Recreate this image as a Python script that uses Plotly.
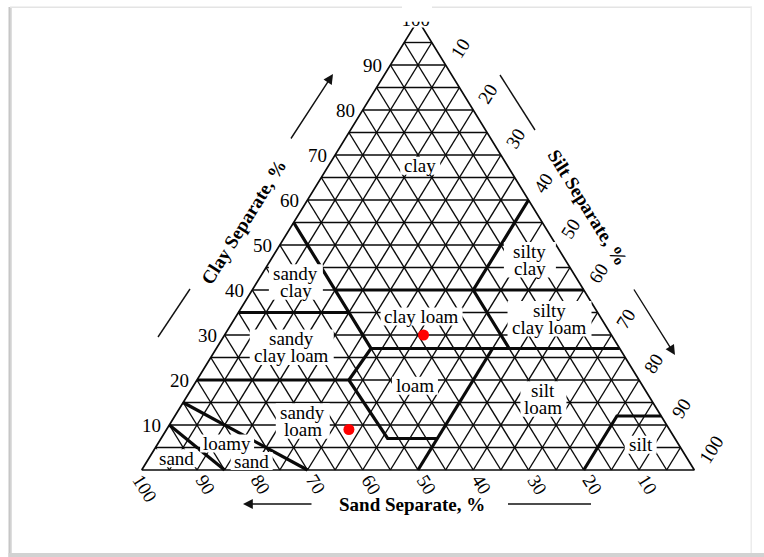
import plotly.graph_objects as go

# ---------------- data ----------------
clay_tick_values = [10, 20, 30, 40, 50, 60, 70, 80, 90]
clay_tick_labels = ["10", "20", "30", "40", "50", "60", "70", "80", "90"]
silt_tick_values = [10, 20, 30, 40, 50, 60, 70, 80, 90, 100]
silt_tick_labels = ["10", "20", "30", "40", "50", "60", "70", "80", "90", "100"]
sand_tick_values = [100, 90, 80, 70, 60, 50, 40, 30, 20, 10]
sand_tick_labels = ["100", "90", "80", "70", "60", "50", "40", "30", "20", "10"]
apex_label = "100"

grid_step = 5  # grid every 5 %

# texture-class boundaries, vertices given as (sand %, clay %)
bnd_sand45 = [(45, 55), (45, 27), (52.5, 20)]
bnd_clay20 = [(80, 20), (52.5, 20), (52, 7), (43, 7)]
bnd_clay35 = [(65, 35), (45, 35)]
bnd_clay40 = [(45, 40), (0, 40)]
bnd_silt40 = [(0, 60), (20, 40), (20, 27)]
bnd_clay27 = [(45, 27), (0, 27)]
bnd_silt50 = [(23, 27), (50, 0)]
bnd_silt80 = [(0, 12), (8, 12), (20, 0)]
bnd_loamysand = [(85, 15), (70, 0)]
bnd_sand = [(90, 10), (85, 0)]
boundaries = [bnd_sand45, bnd_clay20, bnd_clay35, bnd_clay40, bnd_silt40,
              bnd_clay27, bnd_silt50, bnd_silt80, bnd_loamysand, bnd_sand]

# texture-class labels
class_text = ["clay", "sandy|clay", "silty|clay", "sandy|clay loam", "clay loam",
              "silty|clay loam", "loam", "silt|loam", "sandy|loam", "loamy",
              "sand", "sand", "silt"]
class_sand = [15.8, 51.2, 6.4, 59.2, 32.3, 9.4, 41.2, 19.4, 65.4, 81.6, 79.1, 92.4, 6.9]
class_clay = [67.6, 41.8, 46.7, 27.3, 34.1, 33.6, 18.7, 15.8, 10.9, 5.9, 2.0, 2.6, 5.6]
class_boxw = [40, 54, 52, 84, 82, 84, 46, 46, 54, 54, 42, 42, 32]

# sample points (sand, silt, clay %)
sample_sand = [34, 58]
sample_silt = [36, 33]
sample_clay = [30, 9]

# ---------------- geometry ----------------
FIG_W, FIG_H = 764, 557
LEFT_PX, BOTTOM_PX, PX_PER_X, PX_PER_Y = 141.7, 470.0, 5.526, 4.5
LINE_GAP = 17.5


def tx(sand, clay):
    return 100 - sand - clay / 2.0


def ty(sand, clay):
    return clay


def px2paper(px, py):
    return px / FIG_W, 1 - py / FIG_H


xr = [-LEFT_PX / PX_PER_X, (FIG_W - LEFT_PX) / PX_PER_X]
yr = [(BOTTOM_PX - FIG_H) / PX_PER_Y, BOTTOM_PX / PX_PER_Y]

FONT = "Liberation Serif, Times New Roman, serif"
TFONT = dict(family=FONT, size=19, color="black")

fig = go.Figure()

# grid lines
gx, gy = [], []
for k in range(grid_step, 100, grid_step):
    for a, b in [((100 - k, k), (0, k)),        # constant clay
                 ((k, 0), (k, 100 - k)),        # constant sand
                 ((100 - k, 0), (0, 100 - k))]:  # constant silt
        gx += [tx(*a), tx(*b), None]
        gy += [ty(*a), ty(*b), None]
fig.add_trace(go.Scatter(x=gx, y=gy, mode="lines", line=dict(color="#0a0a0a", width=1.4),
                         hoverinfo="skip", showlegend=False))

# outline
outline = [(100, 0), (0, 0), (0, 100), (100, 0)]
fig.add_trace(go.Scatter(x=[tx(*p) for p in outline], y=[ty(*p) for p in outline],
                         mode="lines", line=dict(color="#0a0a0a", width=1.7),
                         hoverinfo="skip", showlegend=False))

# class boundaries
bx, by = [], []
for poly in boundaries:
    bx += [tx(*p) for p in poly] + [None]
    by += [ty(*p) for p in poly] + [None]
fig.add_trace(go.Scatter(x=bx, y=by, mode="lines", line=dict(color="#0a0a0a", width=3.2),
                         hoverinfo="skip", showlegend=False))

# white box behind the apex label
ax0, ax1 = (402 - LEFT_PX) / PX_PER_X, (432 - LEFT_PX) / PX_PER_X
ay0, ay1 = (BOTTOM_PX - 27.5) / PX_PER_Y, yr[1]
fig.add_trace(go.Scatter(x=[ax0, ax1, ax1, ax0, ax0], y=[ay0, ay0, ay1, ay1, ay0],
                         mode="lines", fill="toself", fillcolor="white",
                         line=dict(width=0, color="white"), hoverinfo="skip", showlegend=False))
fig.add_trace(go.Scatter(x=[tx(0, 100) - 0.4], y=[ty(0, 100) - 0.2], mode="text",
                         text=[apex_label], textposition="middle center",
                         textfont=TFONT, hoverinfo="skip", showlegend=False))

# sample points
fig.add_trace(go.Scatter(x=[tx(s, c) for s, c in zip(sample_sand, sample_clay)],
                         y=[ty(s, c) for s, c in zip(sample_sand, sample_clay)],
                         mode="markers", marker=dict(color="#ff0000", size=11),
                         customdata=list(zip(sample_sand, sample_silt, sample_clay)),
                         showlegend=False))

ann = []
shapes = []
# tick labels
for v, t in zip(clay_tick_values, clay_tick_labels):
    ann.append(dict(x=tx(100 - v, v), y=ty(100 - v, v), text=t, showarrow=False,
                    xanchor="center", yanchor="middle", xshift=-17.5, yshift=0, font=TFONT))
for v, t in zip(silt_tick_values, silt_tick_labels):
    big = len(t) == 3
    ann.append(dict(x=tx(0, 100 - v), y=ty(0, 100 - v), text=t, showarrow=False,
                    xanchor="center", yanchor="middle", textangle=-58,
                    xshift=17 if big else 14.5, yshift=20.5 if big else 16.5, font=TFONT))
for v, t in zip(sand_tick_values, sand_tick_labels):
    big = len(t) == 3
    ann.append(dict(x=tx(v, 0), y=ty(v, 0), text=t, showarrow=False,
                    xanchor="center", yanchor="middle", textangle=58,
                    xshift=3.5 if big else 8.5, yshift=-18 if big else -14.5, font=TFONT))

# class labels: white box (shape above the traces) + text lines
for name, s, c, w in zip(class_text, class_sand, class_clay, class_boxw):
    lines = name.split("|")
    n = len(lines)
    h = 18 + (n - 1) * LINE_GAP
    shapes.append(dict(type="rect", xref="x", yref="y", xsizemode="pixel", ysizemode="pixel",
                       xanchor=tx(s, c), yanchor=ty(s, c), x0=-w / 2.0, x1=w / 2.0,
                       y0=-h / 2.0, y1=h / 2.0, fillcolor="white", line=dict(width=0),
                       layer="above"))
    for j, line in enumerate(lines):
        ann.append(dict(x=tx(s, c), y=ty(s, c), text=line, showarrow=False,
                        xanchor="center", yanchor="middle",
                        yshift=((n - 1) / 2.0 - j) * LINE_GAP, font=TFONT))

# axis titles
for txt, (px, py), ang in [("Clay Separate, %", (243, 222), -58),
                           ("Silt Separate, %", (588, 207), 58),
                           ("Sand Separate, %", (411.5, 504), 0)]:
    xp, yp = px2paper(px, py)
    ann.append(dict(x=xp, y=yp, xref="paper", yref="paper", text="<b>%s</b>" % txt,
                    showarrow=False, textangle=ang, xanchor="center", yanchor="middle",
                    font=TFONT))

# arrows
for (hx, hy), (tx_, ty_) in [((333, 74), (290, 140)), ((675, 355), (633, 288)),
                             ((243, 504), (313, 504))]:
    xp, yp = px2paper(hx, hy)
    ann.append(dict(x=xp, y=yp, xref="paper", yref="paper", text="", showarrow=True,
                    ax=tx_ - hx, ay=ty_ - hy, arrowhead=2, arrowsize=1.4, arrowwidth=1.4,
                    arrowcolor="#111", standoff=0, startstandoff=0))

# plain guide lines
for (x0, y0), (x1, y1) in [((500, 75), (535, 130)), ((158, 337), (190, 289)),
                           ((508, 504), (591, 504))]:
    p0, p1 = px2paper(x0, y0), px2paper(x1, y1)
    shapes.append(dict(type="line", xref="paper", yref="paper", x0=p0[0], y0=p0[1],
                       x1=p1[0], y1=p1[1], line=dict(color="#111", width=1.4)))


# card frame / shadow
def rect(x0, y0, x1, y1, color, layer="below"):
    p0, p1 = px2paper(x0, y0), px2paper(x1, y1)
    return dict(type="rect", xref="paper", yref="paper", x0=p0[0], y0=p0[1], x1=p1[0],
                y1=p1[1], fillcolor=color, line=dict(width=0), layer=layer)


shapes.append(rect(8.5, 7, 12, FIG_H, "#c6c6c6"))
shapes.append(rect(10.5, 7, 12, FIG_H, "#dedede"))
shapes.append(rect(8.5, 553, FIG_W, FIG_H, "#d2d2d2"))
shapes.append(rect(10, 6.5, 752, 8, "#e4e4e4"))
shapes.append(rect(750.5, 7, 752, 553, "#ececec"))
# crop of the top of the original picture
shapes.append(rect(12.5, 8.2, 750, 21.8, "white", layer="above"))

fig.update_layout(
    width=FIG_W, height=FIG_H, margin=dict(l=0, r=0, t=0, b=0, pad=0),
    paper_bgcolor="white", plot_bgcolor="white",
    xaxis=dict(range=xr, visible=False, fixedrange=True),
    yaxis=dict(range=yr, visible=False, fixedrange=True),
    annotations=ann, shapes=shapes, showlegend=False,
)

fig.write_html("out.html")
